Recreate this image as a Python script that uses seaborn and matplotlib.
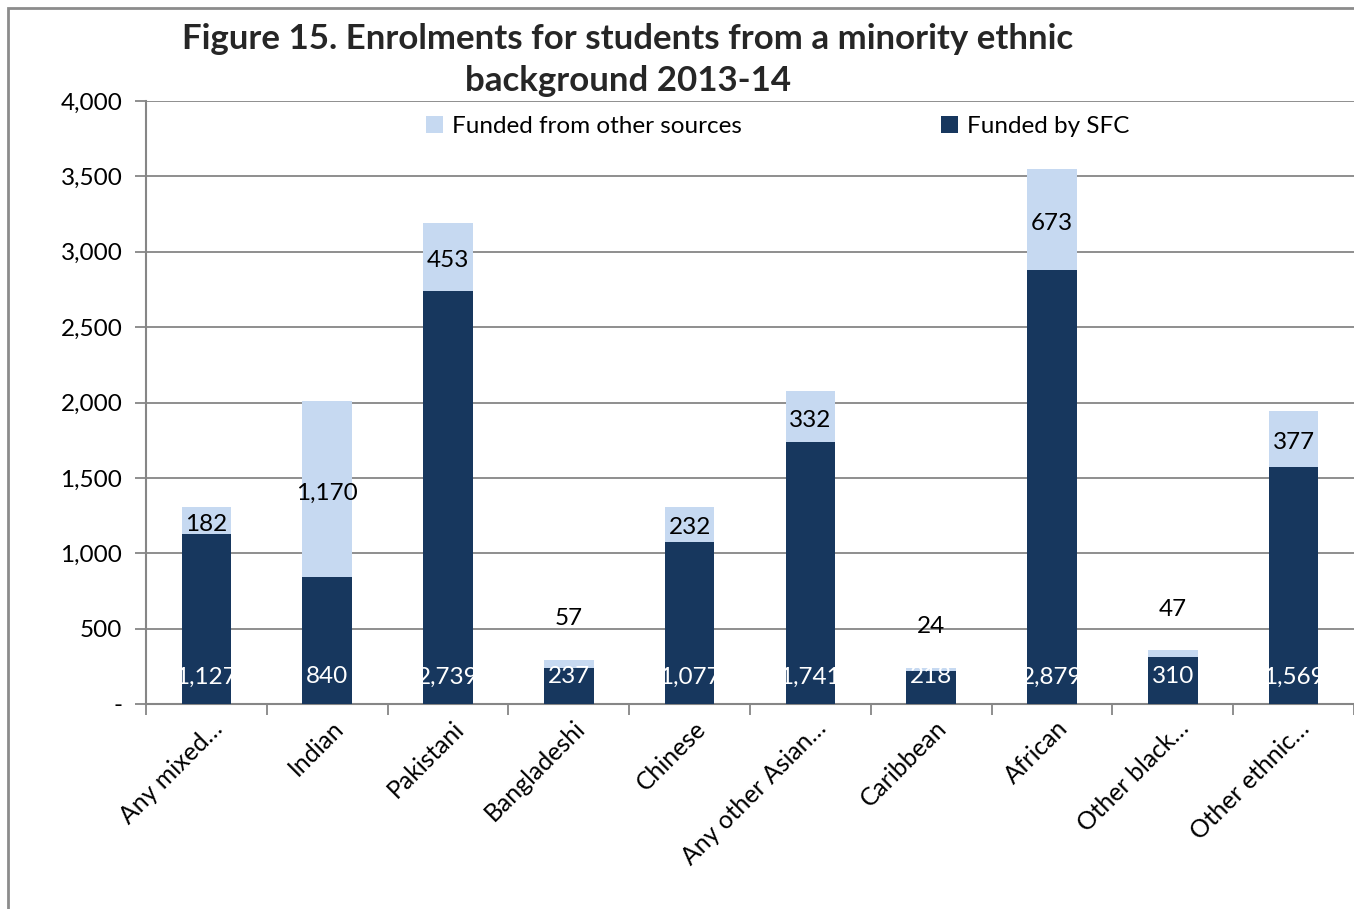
import matplotlib
matplotlib.use("Agg")
import matplotlib.pyplot as plt
import seaborn as sns
import pandas as pd
import numpy as np
from matplotlib.patches import Rectangle
from matplotlib.ticker import FixedLocator, FuncFormatter
from matplotlib.transforms import ScaledTranslation

categories = ["Any mixed…", "Indian", "Pakistani", "Bangladeshi", "Chinese",
              "Any other Asian…", "Caribbean", "African", "Other black…", "Other ethnic…"]
funded_sfc = [1127, 840, 2739, 237, 1077, 1741, 218, 2879, 310, 1569]
funded_other = [182, 1170, 453, 57, 232, 332, 24, 673, 47, 377]

title = "Figure 15. Enrolments for students from a minority ethnic\nbackground 2013-14"
yticks = [0, 500, 1000, 1500, 2000, 2500, 3000, 3500, 4000]

dark = "#17375E"
light = "#C6D9F1"
grid_col = "#868686"

sns.set_theme(style="white")
plt.rcParams["font.family"] = ["Lato", "DejaVu Sans"]

df = pd.DataFrame({"cat": categories, "sfc": funded_sfc, "other": funded_other})
df["total"] = df["sfc"] + df["other"]

fig = plt.figure(figsize=(13.54, 9.09), dpi=100)
ax = fig.add_axes([146/1354, 1 - 704/909, (1354-146)/1354, (704-101)/909])

sns.barplot(data=df, x="cat", y="total", color=light, width=0.41, ax=ax,
            saturation=1, edgecolor="none", label="Funded from other sources", zorder=3)
sns.barplot(data=df, x="cat", y="sfc", color=dark, width=0.41, ax=ax,
            saturation=1, edgecolor="none", label="Funded by SFC", zorder=3)

ax.set_xlim(-0.5, len(categories) - 0.5)
ax.set_ylim(0, 4000)
ax.set_xlabel("")
ax.set_ylabel("")

ax.yaxis.set_major_locator(FixedLocator(yticks))
ax.yaxis.set_major_formatter(FuncFormatter(lambda v, p: "-" if v == 0 else f"{int(v):,}"))
ax.grid(axis="y", color=grid_col, linewidth=1.3, zorder=0)
ax.set_axisbelow(True)

for s in ["top", "right"]:
    ax.spines[s].set_visible(False)
for s in ["left", "bottom"]:
    ax.spines[s].set_color(grid_col)
    ax.spines[s].set_linewidth(1.5)

ax.tick_params(axis="y", which="major", direction="out", length=8, width=1.3,
               color=grid_col, labelsize=17.5, pad=9, left=True, labelcolor="black")
ax.set_xticks(np.arange(len(categories)))
ax.set_xticks(np.arange(len(categories) + 1) - 0.5, minor=True)
ax.tick_params(axis="x", which="major", length=0, pad=9, labelcolor="black")
ax.tick_params(axis="x", which="minor", direction="out", length=8, width=1.3,
               color=grid_col, bottom=True)
ax.set_xticklabels(categories, rotation=45, ha="right", va="top",
                   rotation_mode="anchor", fontsize=17.8)
offset = ScaledTranslation(4/100, 0, fig.dpi_scale_trans)
for lbl in ax.get_xticklabels():
    lbl.set_transform(lbl.get_transform() + offset)

# value labels
bars_sfc = ax.patches[len(categories):]
for i, (s, o) in enumerate(zip(funded_sfc, funded_other)):
    t = ax.text(i, 180, f"{s:,}", ha="center", va="center", color="white",
                fontsize=17.5, zorder=5)
    if s > 230:
        t.set_clip_path(bars_sfc[i])
    if o < 100:
        ty = s + o + 270
    else:
        ty = s + o / 2 - 25
    ax.text(i, ty, f"{o:,}", ha="center", va="center", color="black",
            fontsize=17.5, zorder=5)

fig.text(628/1354, 1 - 60/909, title, ha="center", va="center", fontsize=25.1,
         fontweight="bold", linespacing=1.35)

leg = ax.legend(loc="upper left", bbox_to_anchor=(0.214, 1.012), ncol=2, frameon=False,
                fontsize=17.5, handlelength=0.7, handleheight=0.7, handletextpad=0.35,
                columnspacing=8.2, labelcolor="black")

fig.add_artist(Rectangle((8/1354, -0.1), 1.2, 1 - 8/909 + 0.1, transform=fig.transFigure,
                         fill=False, edgecolor="#8C8C8C", linewidth=2))

fig.savefig("out.png", dpi=100)
